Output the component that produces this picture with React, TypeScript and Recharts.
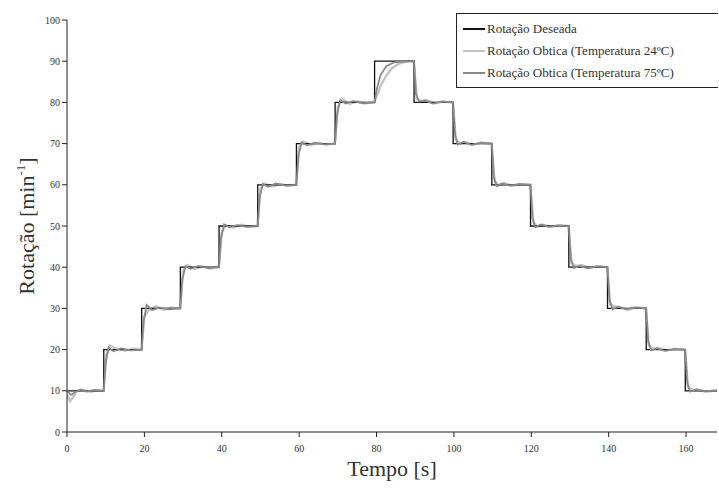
import React from "react";
import { LineChart, Line, XAxis, YAxis } from "recharts";

const desiredT = [0, 9.5, 19.3, 29.3, 39.3, 49.3, 59.3, 69.3, 79.5, 89.7, 99.8, 109.8, 119.8, 129.7, 139.7, 149.7, 159.8, 168];
const desiredV = [10, 20, 30, 40, 50, 60, 70, 80, 90, 80, 70, 60, 50, 40, 30, 20, 10, 10];

const opt24T = [
  0, 0.8, 1.6, 2.5, 4, 6, 8, 9.4,
  10.2, 11, 12.5, 15, 17, 19.2,
  20, 21, 23, 25, 27, 29.2,
  30, 31, 33, 35, 37, 39.2,
  40, 41, 43, 45, 47, 49.2,
  50, 51, 53, 55, 57, 59.2,
  60, 61, 63, 65, 67, 69.2,
  70, 71, 73, 75, 77, 79.4,
  80, 81, 82.5, 84, 86, 88, 89.6,
  90.4, 91.5, 93, 95, 97, 99.7,
  100.5, 101.5, 103, 105, 107, 109.7,
  110.5, 111.5, 113, 115, 117, 119.7,
  120.5, 121.5, 123, 125, 127, 129.6,
  130.4, 131.5, 133, 135, 137, 139.6,
  140.4, 141.5, 143, 145, 147, 149.6,
  150.4, 151.5, 153, 155, 157, 159.7,
  160.5, 161.5, 163, 165, 168,
];
const opt24V = [
  9, 7.5, 8.5, 10, 10.2, 9.8, 10.1, 10,
  19, 21, 20.3, 19.8, 20.2, 20,
  28, 29.5, 30.5, 29.7, 30.2, 30,
  39, 40.5, 39.6, 40.2, 39.7, 40,
  48.5, 50.2, 49.6, 50.3, 49.8, 50,
  59, 60.3, 59.6, 60.2, 59.8, 60,
  69, 70.5, 69.7, 70.2, 69.8, 70,
  79, 80.8, 79.7, 80.2, 79.8, 80,
  81.5, 84, 86.5, 88.3, 89.5, 90, 90,
  81, 80.3, 80.5, 79.8, 80.2, 80,
  71, 70, 70.3, 69.8, 70.2, 70,
  61, 59.8, 60.4, 59.8, 60.1, 60,
  51, 49.8, 50.3, 49.8, 50.2, 50,
  41, 40.3, 40.5, 39.8, 40.2, 40,
  31, 30.5, 30.2, 29.7, 30.3, 30,
  21, 20.2, 20.4, 19.8, 20.2, 20,
  11, 10.2, 10.3, 9.8, 10.1,
];

const opt75T = [
  0, 1, 2, 3.5, 5, 7, 9.5,
  10, 10.8, 12, 14, 16.5, 19.3,
  19.8, 20.6, 22, 24, 26.5, 29.3,
  29.8, 30.6, 32, 34, 36.5, 39.3,
  39.8, 40.6, 42, 44, 46.5, 49.3,
  49.8, 50.6, 52, 54, 56.5, 59.3,
  59.8, 60.6, 62, 64, 66.5, 69.3,
  69.8, 70.6, 72, 74, 76.5, 79.5,
  80, 81, 82.5, 84.5, 87, 89.7,
  90.2, 91, 92.5, 94.5, 97, 99.8,
  100.3, 101, 102.5, 104.5, 107, 109.8,
  110.3, 111, 112.5, 114.5, 117, 119.8,
  120.3, 121, 122.5, 124.5, 127, 129.7,
  130.2, 131, 132.5, 134.5, 137, 139.7,
  140.2, 141, 142.5, 144.5, 147, 149.7,
  150.2, 151, 152.5, 154.5, 157, 159.8,
  160.3, 161, 162.5, 165, 168,
];
const opt75V = [
  10, 9, 9.6, 10.3, 9.8, 10.2, 10,
  17, 20.5, 19.6, 20.3, 19.8, 20,
  27, 30.8, 29.6, 30.2, 29.8, 30,
  37, 40.2, 39.6, 40.3, 39.8, 40,
  47, 50.4, 49.7, 50.2, 49.8, 50,
  57, 60.2, 59.5, 60.3, 59.8, 60,
  67, 70.3, 69.6, 70.2, 69.8, 70,
  77, 80.5, 79.7, 80.3, 79.8, 80,
  83, 86.5, 88.8, 89.7, 89.9, 90,
  82, 80.2, 80.5, 79.7, 80.2, 80,
  72, 69.8, 70.4, 69.7, 70.2, 70,
  62, 59.7, 60.3, 59.8, 60.2, 60,
  52, 49.7, 50.4, 49.8, 50.1, 50,
  42, 39.8, 40.3, 39.7, 40.2, 40,
  32, 29.8, 30.4, 29.8, 30.2, 30,
  22, 19.8, 20.3, 19.7, 20.1, 20,
  12, 9.8, 10.3, 9.9, 10.1,
];

const xTicks = [0, 20, 40, 60, 80, 100, 120, 140, 160];
const yTicks = [0, 10, 20, 30, 40, 50, 60, 70, 80, 90, 100];

const desiredData = desiredT.map((t, i) => ({ t, v: desiredV[i] }));
const opt24Data = opt24T.map((t, i) => ({ t, v: opt24V[i] }));
const opt75Data = opt75T.map((t, i) => ({ t, v: opt75V[i] }));

const FONT = "Liberation Serif, DejaVu Serif, serif";

const legendItems = [
  { label: "Rotação Deseada", color: "#111111" },
  { label: "Rotação Obtica (Temperatura 24ºC)", color: "#c4c4c4" },
  { label: "Rotação Obtica (Temperatura 75ºC)", color: "#8a8a8a" },
];

const LegendBox = () => (
  <div
    style={{
      position: "absolute",
      left: 456,
      top: 13,
      width: 262,
      height: 75,
      boxSizing: "border-box",
      border: "1.5px solid #222",
      borderRight: "none",
      background: "#fff",
      padding: "4px 6px",
      fontFamily: FONT,
      fontSize: 13,
      color: "#333",
    }}
  >
    {legendItems.map((it) => (
      <div key={it.label} style={{ display: "flex", alignItems: "center", height: 22, whiteSpace: "nowrap" }}>
        <div style={{ width: 22, height: 2.5, background: it.color, marginRight: 2 }} />
        <span>{it.label}</span>
      </div>
    ))}
  </div>
);

const YLabel = () => (
  <text
    transform="translate(34,226) rotate(-90)"
    textAnchor="middle"
    fontFamily={FONT}
    fontSize={22}
    fill="#333"
  >
    Rotação [min
    <tspan dy={-9} fontSize={13}>-1</tspan>
    <tspan dy={9}>]</tspan>
  </text>
);

const XLabel = () => (
  <text x={392} y={476} textAnchor="middle" fontFamily={FONT} fontSize={22} fill="#333">
    Tempo [s]
  </text>
);

export default function App() {
  return (
    <div style={{ position: "absolute", left: 0, top: 0, width: 719, height: 489, background: "#fff" }}>
      <LineChart width={719} height={489} margin={{ top: 20, right: 2, left: 0, bottom: 0 }}>
        <XAxis
          dataKey="t"
          type="number"
          domain={[0, 168]}
          ticks={xTicks}
          allowDataOverflow
          height={57}
          tickSize={5}
          stroke="#222"
          tick={{ fontFamily: FONT, fontSize: 10, fill: "#333" }}
          tickMargin={8}
          label={<XLabel />}
        />
        <YAxis
          type="number"
          domain={[0, 100]}
          ticks={yTicks}
          width={67}
          tickSize={5}
          stroke="#222"
          tick={{ fontFamily: FONT, fontSize: 10, fill: "#333" }}
          label={<YLabel />}
        />
        <Line
          data={opt24Data}
          dataKey="v"
          type="linear"
          stroke="#c4c4c4"
          strokeWidth={2.5}
          dot={false}
          isAnimationActive={false}
        />
        <Line
          data={desiredData}
          dataKey="v"
          type="stepAfter"
          stroke="#111111"
          strokeWidth={1.3}
          dot={false}
          isAnimationActive={false}
        />
        <Line
          data={opt75Data}
          dataKey="v"
          type="linear"
          stroke="#8a8a8a"
          strokeWidth={1.8}
          dot={false}
          isAnimationActive={false}
        />
      </LineChart>
      <LegendBox />
    </div>
  );
}
